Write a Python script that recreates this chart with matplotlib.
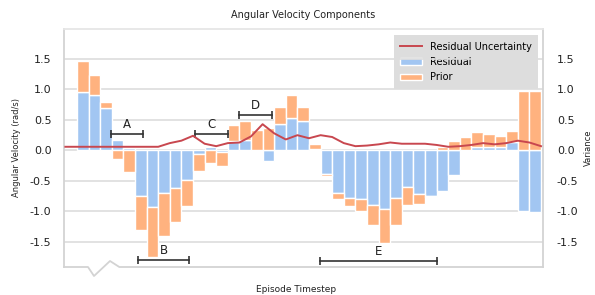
import matplotlib.pyplot as plt
import numpy as np

# values, one bar per timestep
steps = np.arange(40)
residual = [0.95, 0.91, 0.69, 0.17, 0.04, -0.74, -0.93, -0.70, -0.62, -0.49,
            -0.06, 0.05, -0.02, 0.16, 0.17, 0.01, -0.17, 0.43, 0.53, 0.48,
            0.03, -0.39, -0.70, -0.78, -0.80, -0.89, -0.96, -0.78, -0.60, -0.72,
            -0.75, -0.66, -0.41, 0.0, 0.06, 0.06, 0.05, 0.14, -1.00, -1.01]
prior = [0.52, 0.32, 0.11, -0.14, -0.35, -0.56, -0.81, -0.70, -0.56, -0.42,
         -0.27, -0.21, -0.23, 0.26, 0.32, 0.33, 0.36, 0.29, 0.38, 0.24,
         0.08, -0.03, -0.10, -0.13, -0.19, -0.33, -0.55, -0.44, -0.30, -0.16,
         -0.02, 0.05, 0.16, 0.22, 0.25, 0.21, 0.18, 0.18, 0.98, 0.98]

# residual uncertainty is sampled on the bar edges
edges = np.arange(-1, 41) - 0.5
uncertainty = [0.06, 0.06, 0.06, 0.06, 0.06, 0.06, 0.06, 0.06, 0.06,
               0.12, 0.16, 0.24, 0.11, 0.07, 0.12, 0.13, 0.23, 0.43, 0.28,
               0.18, 0.25, 0.20, 0.25, 0.22, 0.12, 0.07, 0.08, 0.10, 0.13,
               0.11, 0.11, 0.11, 0.09, 0.06, 0.07, 0.09, 0.12, 0.10, 0.12,
               0.16, 0.13, 0.07]

# labelled phases: (label, start, end, y)
phases = [("A", 2.4, 5.2, 0.27),
          ("B", 4.73, 9.18, -1.80),
          ("C", 9.67, 12.54, 0.27),
          ("D", 13.5, 16.34, 0.58),
          ("E", 20.45, 30.56, -1.81)]

yticks = [-1.5, -1.0, -0.5, 0.0, 0.5, 1.0, 1.5]

blue = '#a2c6f2'
orange = '#ffb27f'
red = '#c8474f'
spine_c = '#d3d3d3'

fig = plt.figure(figsize=(5.95, 2.95), dpi=100)
ax = fig.add_axes([64 / 595, 28 / 295, 479 / 595, 238 / 295])

res = np.array(residual)
pri = np.array(prior)
# prior stacks on the residual when they point the same way
bottom = np.where(np.sign(res) == np.sign(pri), res, 0.0)

b1 = ax.bar(steps, res, width=1.0, color=blue, edgecolor='white', linewidth=1, label='Residual', zorder=2)
b2 = ax.bar(steps, pri, bottom=bottom, width=1.0, color=orange, edgecolor='white', linewidth=1, label='Prior', zorder=2)

for name, x0, x1, y in phases:
    ax.plot([x0, x1], [y, y], color='#333333', lw=1.2, marker='|', markersize=6, mew=1.2, zorder=4)
    ax.text((x0 + x1) / 2, y + 0.05, name, ha='center', va='bottom', fontsize=8.5, color='#222222', zorder=4)

ax.set_xlim(-1.62, 39.67)
ax.set_ylim(-1.91, 1.99)
ax.set_yticks(yticks)
ax.set_yticklabels(['%.1f' % t for t in yticks])
ax.set_xticks([])
ax.tick_params(axis='y', length=0, pad=9, labelsize=8, colors='#222222')
ax.yaxis.grid(True, color='#dddddd', lw=1.2)
ax.set_axisbelow(True)

for s in ['left', 'right', 'top']:
    ax.spines[s].set_color(spine_c)
    ax.spines[s].set_linewidth(1.3)
ax.spines['bottom'].set_visible(False)
ax.spines['top'].set_color('#e6e6e6')

# bottom axis line with a break mark
bx = np.array([64, 88, 94, 110, 119.3, 543])
by = np.array([267, 267, 276, 261, 267, 267])
ax.plot((bx - 64) / 479, (267 - by) / 238, transform=ax.transAxes, color=spine_c, lw=1.3, clip_on=False)

ax2 = ax.twinx()
ax2.set_ylim(-1.91, 1.99)
ax2.set_yticks(yticks)
ax2.set_yticklabels(['%.1f' % t for t in yticks])
ax2.tick_params(axis='y', length=0, pad=10, labelsize=8, colors='#222222')
for s in ax2.spines.values():
    s.set_visible(False)
ln, = ax2.plot(edges, uncertainty, color=red, lw=1.4, label='Residual Uncertainty')

leg = ax.legend(handles=[ln, b1, b2], loc='upper right', bbox_to_anchor=(0.99, 0.975),
                borderaxespad=0, fontsize=7, facecolor='#dddddd', edgecolor='none',
                framealpha=1, fancybox=False, handlelength=2.2, handletextpad=0.8,
                labelspacing=0.55, borderpad=0.7)
leg.set_zorder(0.2)

fig.text(303.5 / 595, 1 - 15 / 295, 'Angular Velocity Components', ha='center', va='center', fontsize=7, color='#222222')
fig.text(296.5 / 595, 1 - 290 / 295, 'Episode Timestep', ha='center', va='center', fontsize=6.5, color='#222222')
fig.text(17 / 595, 0.5, 'Angular Velocity (rad/s)', rotation=90, ha='center', va='center', fontsize=6, color='#222222')
fig.text(588 / 595, 0.5, 'Variance', rotation=90, ha='center', va='center', fontsize=6, color='#222222')

fig.savefig('out.png', dpi=100)
